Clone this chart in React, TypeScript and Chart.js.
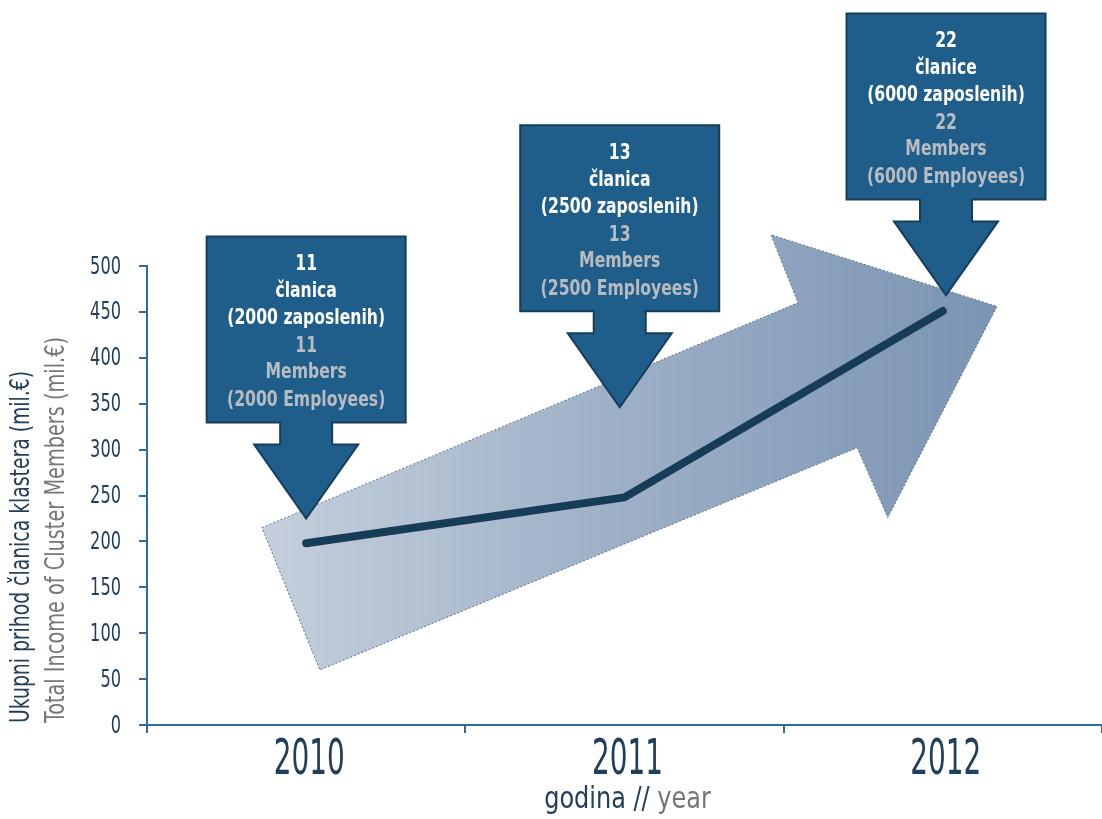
import React, { useEffect, useRef } from "react";
import { Chart, registerables } from "chart.js";

Chart.register(...registerables);

// ---------- data ----------
const years = ["2010", "2011", "2012"];
const income = [198, 248, 451];
const yMin = 0;
const yMax = 500;
const yStep = 50;

const annotCount = ["11", "13", "22"];
const annotHrWord = ["članica", "članica", "članice"];
const annotHrStaff = ["(2000 zaposlenih)", "(2500 zaposlenih)", "(6000 zaposlenih)"];
const annotEnWord = ["Members", "Members", "Members"];
const annotEnStaff = ["(2000 Employees)", "(2500 Employees)", "(6000 Employees)"];
// tip of each call-out arrow, in data coordinates (category index, value)
const annotTipX = [0, 0.985, 2.01];
const annotTipY = [225, 346, 468];

// background trend arrow outline, in data coordinates
const trendArrowX = [-0.139, 1.545, 1.46, 2.17, 1.827, 1.731, 0.043];
const trendArrowY = [215, 460, 534, 456, 226, 302, 60];

const yTitleHr = "Ukupni prihod članica klastera (mil.€)";
const yTitleEn = "Total Income of Cluster Members (mil.€)";
const xTitleHr = "godina // ";
const xTitleEn = "year";

// ---------- styles ----------
const NARROW =
  '"Liberation Sans Narrow", "DejaVu Sans Condensed", "Roboto Condensed", "Liberation Sans", sans-serif';
const DARK = "#223f5a";
const GRAY = "#767676";
const AXIS = "#2d6c9c";
const BOX_FILL = "#1f5e8a";
const BOX_EDGE = "#163d5a";
const LINE = "#173c58";

function squeezeText(
  ctx: CanvasRenderingContext2D,
  text: string,
  x: number,
  y: number,
  sx: number,
  align: CanvasTextAlign
) {
  ctx.save();
  ctx.translate(x, y);
  ctx.scale(sx, 1);
  ctx.textAlign = align;
  ctx.fillText(text, 0, 0);
  ctx.restore();
}

const decorPlugin = {
  id: "decor",
  beforeDatasetsDraw(chart: any) {
    const { ctx, scales } = chart;
    const xs = scales.x;
    const ys = scales.y;
    const pts = trendArrowX.map((v, i) => [xs.getPixelForValue(v), ys.getPixelForValue(trendArrowY[i])]);
    const minX = Math.min(...pts.map((p) => p[0]));
    const maxX = Math.max(...pts.map((p) => p[0]));
    ctx.save();
    const g = ctx.createLinearGradient(minX, 0, maxX, 0);
    g.addColorStop(0, "#c5cfdc");
    g.addColorStop(0.5, "#9cafc6");
    g.addColorStop(1, "#7a94b2");
    ctx.beginPath();
    pts.forEach((p, i) => (i === 0 ? ctx.moveTo(p[0], p[1]) : ctx.lineTo(p[0], p[1])));
    ctx.closePath();
    ctx.fillStyle = g;
    ctx.fill();
    ctx.setLineDash([2, 2]);
    ctx.lineWidth = 1;
    ctx.strokeStyle = "#5d7189";
    ctx.stroke();
    ctx.restore();
  },
  afterDatasetsDraw(chart: any) {
    const { ctx, scales } = chart;
    const xs = scales.x;
    const ys = scales.y;
    const boxW = 199;
    const boxH = 186;
    const stemHW = 26;
    const stemH = 22;
    const triHW = 52;
    const triH = 74;
    annotTipX.forEach((tx, i) => {
      const cx = xs.getPixelForValue(tx);
      const tipY = ys.getPixelForValue(annotTipY[i]);
      const triTop = tipY - triH;
      const boxBottom = triTop - stemH;
      const boxTop = boxBottom - boxH;
      const l = cx - boxW / 2;
      const r = cx + boxW / 2;
      ctx.save();
      ctx.beginPath();
      ctx.moveTo(l, boxTop);
      ctx.lineTo(r, boxTop);
      ctx.lineTo(r, boxBottom);
      ctx.lineTo(cx + stemHW, boxBottom);
      ctx.lineTo(cx + stemHW, triTop);
      ctx.lineTo(cx + triHW, triTop);
      ctx.lineTo(cx, tipY);
      ctx.lineTo(cx - triHW, triTop);
      ctx.lineTo(cx - stemHW, triTop);
      ctx.lineTo(cx - stemHW, boxBottom);
      ctx.lineTo(l, boxBottom);
      ctx.closePath();
      ctx.fillStyle = BOX_FILL;
      ctx.fill();
      ctx.lineWidth = 2;
      ctx.lineJoin = "miter";
      ctx.strokeStyle = BOX_EDGE;
      ctx.stroke();

      ctx.textBaseline = "middle";
      ctx.font = `bold 22px ${NARROW}`;
      const lines = [
        [annotCount[i], "#ffffff", 28],
        [annotHrWord[i], "#ffffff", 55],
        [annotHrStaff[i], "#ffffff", 82],
        [annotCount[i], "#b8bcc1", 110],
        [annotEnWord[i], "#b8bcc1", 136],
        [annotEnStaff[i], "#b8bcc1", 164],
      ] as [string, string, number][];
      lines.forEach(([t, c, dy]) => {
        ctx.fillStyle = c;
        squeezeText(ctx, t, cx, boxTop + dy, 0.79, "center");
      });
      ctx.restore();
    });
  },
  afterDraw(chart: any) {
    const { ctx, scales } = chart;
    const xs = scales.x;
    const ys = scales.y;

    // y tick labels (condensed)
    ctx.save();
    ctx.font = `25px ${NARROW}`;
    ctx.fillStyle = DARK;
    ctx.textBaseline = "middle";
    ys.ticks.forEach((t: any, i: number) => {
      const py = ys.getPixelForTick(i);
      squeezeText(ctx, String(t.value), 121, py + 1, 0.72, "right");
    });
    // x tick labels (condensed)
    ctx.font = `50px ${NARROW}`;
    xs.ticks.forEach((t: any, i: number) => {
      const px = xs.getPixelForTick(i);
      squeezeText(ctx, years[t.value] ?? String(t.label), px + 3, 761, 0.62, "center");
    });
    ctx.restore();

    // y titles (rotated)
    ctx.save();
    ctx.translate(22, ys.bottom - 2);
    ctx.rotate(-Math.PI / 2);
    ctx.textBaseline = "middle";
    ctx.font = `26px ${NARROW}`;
    ctx.fillStyle = DARK;
    const wa = ctx.measureText(yTitleHr).width;
    squeezeText(ctx, yTitleHr, 0, 0, 352 / wa, "left");
    ctx.fillStyle = GRAY;
    const wb = ctx.measureText(yTitleEn).width;
    squeezeText(ctx, yTitleEn, 0, 35, 386 / wb, "left");
    ctx.restore();

    // x title
    ctx.save();
    ctx.font = `31px ${NARROW}`;
    ctx.textBaseline = "middle";
    const sx = 0.86;
    const w1 = ctx.measureText(xTitleHr).width * sx;
    const w2 = ctx.measureText(xTitleEn).width * sx;
    const cx = xs.getPixelForValue(1) + 3;
    const x0 = cx - (w1 + w2) / 2;
    const y = 800;
    ctx.fillStyle = DARK;
    squeezeText(ctx, xTitleHr, x0, y, sx, "left");
    ctx.fillStyle = GRAY;
    squeezeText(ctx, xTitleEn, x0 + w1, y, sx, "left");
    ctx.restore();
  },
};

export default function App() {
  const ref = useRef<HTMLCanvasElement | null>(null);

  useEffect(() => {
    document.body.style.margin = "0";
    const canvas = ref.current;
    if (!canvas) return;
    const chart = new Chart(canvas, {
      type: "line",
      data: {
        labels: years,
        datasets: [
          {
            data: income,
            borderColor: LINE,
            borderWidth: 8,
            borderCapStyle: "round",
            borderJoinStyle: "round",
            pointRadius: 0,
            tension: 0,
            fill: false,
          },
        ],
      },
      options: {
        responsive: false,
        animation: false,
        devicePixelRatio: 1,
        layout: { padding: { top: 266, left: 0, right: 0, bottom: 0 } },
        plugins: {
          legend: { display: false },
          tooltip: { enabled: false },
          title: { display: false },
        },
        scales: {
          x: {
            type: "category",
            offset: true,
            grid: {
              offset: true,
              drawOnChartArea: false,
              drawTicks: true,
              tickLength: 8,
              color: AXIS,
              lineWidth: 2,
            },
            border: { display: true, color: AXIS, width: 2 },
            ticks: {
              color: "rgba(0,0,0,0)",
              font: { family: NARROW, size: 44 },
              padding: 0,
            },
            afterFit: (s: any) => {
              s.height = 94;
            },
          },
          y: {
            min: yMin,
            max: yMax,
            grid: {
              drawOnChartArea: false,
              drawTicks: true,
              tickLength: 8,
              color: AXIS,
              lineWidth: 2,
            },
            border: { display: true, color: AXIS, width: 2 },
            ticks: {
              stepSize: yStep,
              color: "rgba(0,0,0,0)",
              font: { family: NARROW, size: 23 },
              padding: 18,
            },
            afterFit: (s: any) => {
              s.width = 147;
            },
          },
        },
      },
      plugins: [decorPlugin],
    } as any);
    return () => chart.destroy();
  }, []);

  return (
    <div style={{ width: 1102, height: 819, background: "#ffffff" }}>
      <canvas ref={ref} width={1102} height={819} />
    </div>
  );
}
